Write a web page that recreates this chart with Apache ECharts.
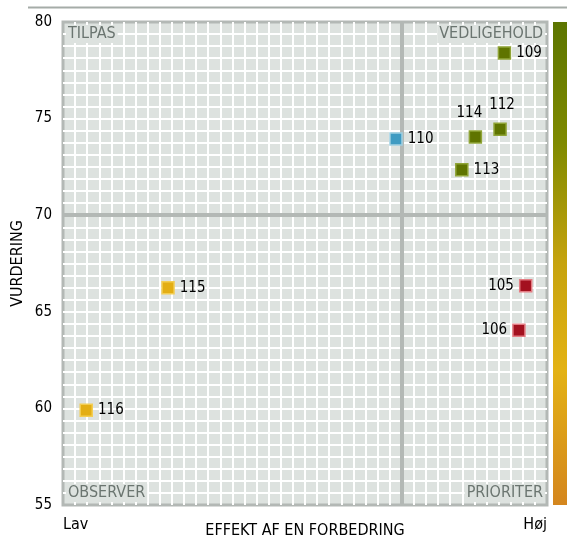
<!DOCTYPE html>
<html>
<head>
<meta charset="utf-8">
<script src="https://cdn.jsdelivr.net/npm/echarts@6/dist/echarts.min.js"></script>
<style>
    html, body { margin: 0; padding: 0; background: #fff; }
    #chart { width: 567px; height: 538px; }
</style>
</head>
<body>
<div id="chart"></div>
<script>
// punkt-id'er
const ids = ["109", "114", "112", "110", "113", "105", "106", "115", "116"];
// effekt af en forbedring (0 = lav, 100 = høj)
const effekt = [91.2, 85.2, 90.3, 68.8, 82.4, 95.6, 94.2, 21.7, 4.8];
// vurdering
const vurdering = [78.4, 74.05, 74.45, 73.95, 72.35, 66.35, 64.05, 66.25, 59.9];
// farvegruppe for hvert punkt
const grupper = ["groen", "groen", "groen", "blaa", "groen", "roed", "roed", "gul", "gul"];
const yTicks = [55, 60, 65, 70, 75, 80];
const xEnder = ["Lav", "Høj"];
const kvadranter = ["TILPAS", "VEDLIGEHOLD", "OBSERVER", "PRIORITER"];
const graense = { x: 70, y: 70 };

const farver = {
    groen: { fill: "#5f7400", border: "#8fa436" },
    blaa: { fill: "#3f9bc2", border: "#9fd0e2" },
    roed: { fill: "#a3111f", border: "#e47d84" },
    gul: { fill: "#e3ae14", border: "#f3cd52" }
};
// hvor tallet står i forhold til punktet
const labelPos = { "114": "top", "112": "top", "105": "left", "106": "left" };
const labelOffset = { "114": [-6, 0], "112": [2, 0] };

const font = "'DejaVu Sans Condensed', 'DejaVu Sans'";

const chart = echarts.init(document.getElementById("chart"));

const cellBg = "#dde2df";
const kant = "#b3b8b5";
const tekstGraa = "#6b7570";

const data = ids.map(function (id, i) {
    const f = farver[grupper[i]];
    return {
        name: id,
        value: [effekt[i], vurdering[i]],
        itemStyle: { color: f.fill, borderColor: f.border, borderWidth: 1.5, opacity: 1 },
        label: {
            position: labelPos[id] || "right",
            offset: labelOffset[id] || [0, 0],
            distance: labelPos[id] === "top" ? 10 : 5
        }
    };
});

function kvadrantTekst(txt, pos) {
    return Object.assign({
        type: "text",
        z: 10,
        style: {
            text: txt,
            font: "16px " + font,
            fill: tekstGraa,
            backgroundColor: cellBg,
            padding: [1, 2, 1, 2]
        }
    }, pos);
}

let option = {
    animation: false,
    textStyle: { fontFamily: font },
    grid: {
        left: 63,
        right: 20,
        top: 22,
        bottom: 33,
        outerBoundsMode: "none",
        containLabel: false,
        show: true,
        backgroundColor: cellBg,
        borderColor: kant,
        borderWidth: 3
    },
    xAxis: {
        type: "value",
        min: 0,
        max: 100,
        interval: 100,
        name: "EFFEKT AF EN FORBEDRING",
        nameLocation: "middle",
        nameGap: 18,
        nameMoveOverlap: false,
        nameTextStyle: { fontSize: 16, color: "#000", fontFamily: font },
        axisLine: { show: false },
        axisTick: { show: false },
        axisLabel: {
            fontSize: 16,
            color: "#000",
            fontFamily: font,
            margin: 12,
            formatter: function (v) { return v === 0 ? xEnder[0] : xEnder[1]; },
            alignMinLabel: "left",
            alignMaxLabel: "right"
        },
        splitLine: { show: false },
        minorTick: { show: false, splitNumber: 40 },
        minorSplitLine: { show: true, lineStyle: { color: "#fff", width: 2 } }
    },
    yAxis: {
        type: "value",
        min: yTicks[0],
        max: yTicks[yTicks.length - 1],
        interval: 5,
        name: "VURDERING",
        nameLocation: "middle",
        nameGap: 37,
        nameMoveOverlap: false,
        nameTextStyle: { fontSize: 16, color: "#000", fontFamily: font },
        axisLine: { show: false },
        axisTick: { show: false },
        axisLabel: { fontSize: 15, color: "#000", fontFamily: font, margin: 11, padding: [4, 0, 0, 0] },
        splitLine: { show: true, showMinLine: false, showMaxLine: false, lineStyle: { color: "#fff", width: 2 } },
        minorTick: { show: false, splitNumber: 8 },
        minorSplitLine: { show: true, lineStyle: { color: "#fff", width: 2 } }
    },
    series: [
        {
            type: "scatter",
            symbol: "rect",
            symbolSize: 12,
            z: 5,
            data: data,
            label: {
                show: true,
                formatter: "{b}",
                fontSize: 15,
                fontFamily: font,
                color: "#000"
            },
            markLine: {
                silent: true,
                symbol: "none",
                z: 1,
                label: { show: false },
                lineStyle: { color: kant, width: 4, type: "solid", opacity: 1 },
                data: [{ xAxis: graense.x }, { yAxis: graense.y }]
            }
        }
    ],
    graphic: [
        {
            type: "line",
            shape: { x1: 28, y1: 7.5, x2: 567, y2: 7.5 },
            style: { stroke: "#a5aca8", lineWidth: 2 }
        },
        {
            type: "rect",
            shape: { x: 553, y: 22, width: 14, height: 483 },
            style: {
                fill: new echarts.graphic.LinearGradient(0, 0, 0, 1, [
                    { offset: 0, color: "#5c7500" },
                    { offset: 0.25, color: "#7f8a00" },
                    { offset: 0.5, color: "#c6a30e" },
                    { offset: 0.72, color: "#e3b214" },
                    { offset: 1, color: "#d4861e" }
                ])
            }
        },
        kvadrantTekst(kvadranter[0], { left: 66, top: 25 }),
        kvadrantTekst(kvadranter[1], { right: 22, top: 25 }),
        kvadrantTekst(kvadranter[2], { left: 66, top: 484 }),
        kvadrantTekst(kvadranter[3], { right: 22, top: 484 })
    ]
};

chart.setOption(option);
</script>
</body>
</html>
